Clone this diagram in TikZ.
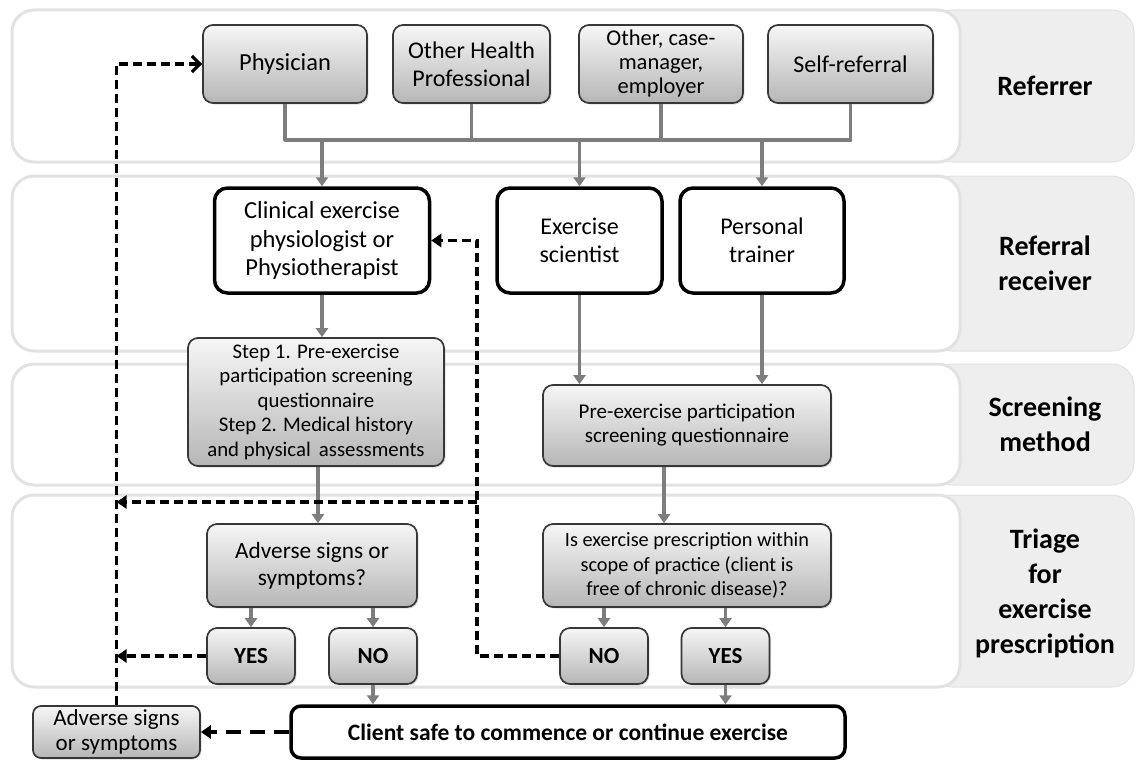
\documentclass[tikz,border=0pt]{standalone}
\usepackage{fontspec}
\setmainfont{Carlito}
\usetikzlibrary{arrows.meta,shadows}
\definecolor{lanebd}{RGB}{226,226,226}
\definecolor{lblfill}{RGB}{238,238,238}
\definecolor{conn}{RGB}{125,125,125}
\definecolor{boxbd}{RGB}{55,55,55}
\definecolor{gtop}{RGB}{246,246,246}
\definecolor{gbot}{RGB}{182,182,182}
\begin{document}
\begin{tikzpicture}[x=1pt,y=-1pt,
  lane/.style={draw=lanebd, line width=3pt, fill=white, rounded corners=22pt},
  lblpanel/.style={draw=lanebd, line width=1pt, fill=lblfill, rounded corners=22pt},
  lbltext/.style={font=\fontsize{28}{35}\selectfont\bfseries, align=center},
  gbox/.style={draw=boxbd, line width=1.7pt, rounded corners=10pt, top color=gtop, bottom color=gbot,
    align=center, inner sep=2pt, drop shadow={opacity=0.25,shadow xshift=1.5pt,shadow yshift=-1.5pt}},
  wbox/.style={draw=black, line width=3.5pt, rounded corners=13pt, fill=white, align=center, inner sep=2pt},
  garrow/.style={draw=conn, line width=3.6pt, -{Triangle[length=9pt,width=12pt]}},
  gline/.style={draw=conn, line width=3.6pt},
  dline/.style={draw=black, line width=3.8pt, dash pattern=on 9pt off 5pt},
  ynbox/.style={gbox, minimum width=88pt, minimum height=56pt, font=\fontsize{23}{26}\selectfont\bfseries}
]
\useasboundingbox (0,0) rectangle (1137,760);

% lanes
\draw[lblpanel] (930,10) rectangle (1134,162);
\draw[lane] (12,10) rectangle (960,162);
\draw[lblpanel] (930,176) rectangle (1134,351);
\draw[lane] (12,176) rectangle (960,351);
\draw[lblpanel] (930,364) rectangle (1134,485);
\draw[lane] (12,364) rectangle (960,485);
\draw[lblpanel] (930,495) rectangle (1134,687);
\draw[lane] (12,495) rectangle (960,687);

\node[lbltext] (t1) at (1045,86) {Referrer};
\node[lbltext] (t2) at (1045,263) {Referral\\receiver};
\node[lbltext] (t3) at (1045,424) {Screening\\method};
\node[lbltext] (t4) at (1045,593) {Triage\\for\\exercise\\prescription};

% row 1
\node[gbox, minimum width=164pt, minimum height=78pt, font=\fontsize{24.5}{28}\selectfont] (phys) at (285,64) {Physician};
\node[gbox, minimum width=157pt, minimum height=78pt, font=\fontsize{24}{28}\selectfont] (ohp) at (471.5,64) {Other Health\\Professional};
\node[gbox, minimum width=164pt, minimum height=78pt, font=\fontsize{22.5}{24}\selectfont] (ocm) at (661,64) {Other, case-\\manager,\\employer};
\node[gbox, minimum width=165pt, minimum height=78pt, font=\fontsize{24}{28}\selectfont] (self) at (850.5,64) {Self-referral};

% row 2
\node[wbox, minimum width=215pt, minimum height=105pt, font=\fontsize{24.5}{28.5}\selectfont] (clin) at (322,240.5) {Clinical exercise\\physiologist or\\Physiotherapist};
\node[wbox, minimum width=165pt, minimum height=105pt, font=\fontsize{24}{28}\selectfont] (exsci) at (579.5,240.5) {Exercise\\scientist};
\node[wbox, minimum width=164pt, minimum height=105pt, font=\fontsize{24}{28}\selectfont] (pt) at (762,240.5) {\raisebox{4pt}{\parbox{150pt}{\centering Personal\\trainer}}};

% row 3
\node[gbox, minimum width=256pt, minimum height=128pt, font=\fontsize{20.8}{24.5}\selectfont] (step) at (316,402) {Step 1. Pre-exercise\\participation screening\\questionnaire\\Step 2. Medical history\\and physical\, assessments};
\node[gbox, minimum width=288pt, minimum height=81pt, font=\fontsize{21}{24}\selectfont] (preq) at (687,425.5) {Pre-exercise participation\\screening questionnaire};

% row 4
\node[gbox, minimum width=210pt, minimum height=83pt, font=\fontsize{23.3}{27}\selectfont] (adv) at (312,565.5) {Adverse signs or\\symptoms?};
\node[gbox, minimum width=288pt, minimum height=83pt, font=\fontsize{20.3}{24.5}\selectfont] (isex) at (687,565.5) {Is exercise prescription within\\scope of practice (client is\\free of chronic disease)?};
\node[ynbox] (yes1) at (251,656) {YES};
\node[ynbox] (no1) at (373,656) {NO};
\node[ynbox] (no2) at (604,656) {NO};
\node[ynbox] (yes2) at (725.5,656) {YES};

% bottom
\node[wbox, minimum width=554pt, minimum height=52pt, rounded corners=10pt, font=\fontsize{23.5}{26}\selectfont\bfseries] (client) at (568,732) {Client safe to commence or continue exercise};
\node[gbox, minimum width=167pt, minimum height=52pt, rounded corners=8pt, font=\fontsize{23}{25}\selectfont] (adv2) at (116.5,732) {Adverse signs\\or symptoms};

% bus
\coordinate (bus) at (0,140);
\draw[gline] (phys.south) -- (phys.south |- bus);
\draw[gline] (ohp.south) -- (ohp.south |- bus);
\draw[gline] (ocm.south) -- (ocm.south |- bus);
\draw[gline] (self.south) -- (self.south |- bus);
\draw[gline, line cap=round] (phys.south |- bus) -- (self.south |- bus);
\draw[garrow] (clin.north |- bus) -- (clin.north);
\draw[garrow] (exsci.north |- bus) -- (exsci.north);
\draw[garrow] (pt.north |- bus) -- (pt.north);

% grey arrows
\draw[garrow] (clin.south) -- (clin.south |- step.north);
\draw[garrow] (exsci.south) -- (exsci.south |- preq.north);
\draw[garrow] (pt.south) -- (pt.south |- preq.north);
\draw[garrow] ([xshift=2pt]step.south) -- ([xshift=2pt]step.south |- adv.north);
\draw[garrow] ([xshift=-23pt]preq.south) -- ([xshift=-23pt]preq.south |- isex.north);
\draw[garrow] (yes1.north |- adv.south) -- (yes1.north);
\draw[garrow] (no1.north |- adv.south) -- (no1.north);
\draw[garrow] (no2.north |- isex.south) -- (no2.north);
\draw[garrow] (yes2.north |- isex.south) -- (yes2.north);
\draw[garrow] (no1.south) -- (no1.south |- client.north);
\draw[garrow] (yes2.south) -- (yes2.south |- client.north);

% dashed arrows
\coordinate (jx) at (477,0);
\coordinate (br) at (477,502);
\draw[dline, -{Straight Barb[length=8pt,width=16pt,line width=3.2pt]}] (adv2.north) -- (adv2.north |- phys.west) -- (phys.west);
\draw[dline, -{Triangle[length=10pt,width=13pt]}] (yes1.west) -- (adv2.north |- yes1.west);
\draw[dline, -{Triangle[length=10pt,width=13pt]}] (no2.west) -| (jx |- clin.east) -- (clin.east);
\draw[dline, -{Triangle[length=10pt,width=13pt]}] (br) -- (adv2.north |- br);
\draw[draw=black, line width=3.8pt, dash pattern=on 15pt off 9pt, -{Triangle[length=10pt,width=13pt]}] (client.west) -- (adv2.east);
\end{tikzpicture}
\end{document}
